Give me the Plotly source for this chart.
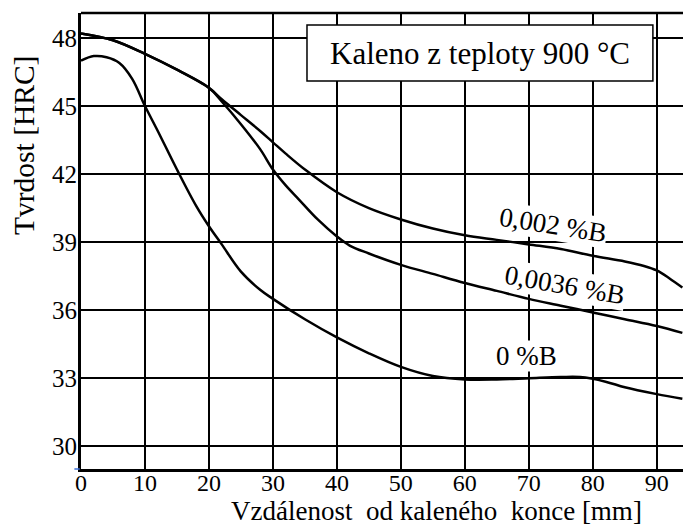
import plotly.graph_objects as go

# Jominy end-quench hardness curves (distance from quenched end in mm vs HRC)
dist_002 = [0, 5, 10, 15, 20, 22, 25, 28, 30, 32, 35, 40, 45, 50, 55, 60, 65, 70, 75, 80, 85, 88, 90,
            92, 94]
hrc_002 = [48.2, 47.9, 47.3, 46.6, 45.8, 45.3, 44.6, 43.9, 43.4, 42.9, 42.2, 41.2, 40.5, 40.0, 39.6,
           39.3, 39.1, 38.9, 38.7, 38.4, 38.15, 37.95, 37.75, 37.4, 37.0]

dist_0036 = [0, 5, 10, 15, 20, 22, 25, 28, 30, 32, 34, 37, 40, 42, 45, 50, 55, 60, 65, 70, 75, 80, 85,
             90, 94]
hrc_0036 = [48.2, 47.9, 47.3, 46.6, 45.8, 45.2, 44.2, 43.1, 42.2, 41.5, 40.9, 40.0, 39.25, 38.85, 38.5,
            38.0, 37.6, 37.2, 36.85, 36.5, 36.2, 35.9, 35.6, 35.3, 35.0]

dist_0 = [0, 2, 4, 6, 8, 10, 12, 15, 18, 20, 22, 25, 28, 30, 35, 40, 45, 50, 55, 60, 65, 70, 75, 78,
          82, 85, 90, 94]
hrc_0 = [47.0, 47.2, 47.15, 46.9, 46.2, 45.0, 43.9, 42.2, 40.6, 39.7, 38.9, 37.7, 36.9, 36.5, 35.6,
         34.8, 34.1, 33.5, 33.1, 32.95, 32.95, 33.0, 33.05, 33.05, 32.85, 32.6, 32.3, 32.1]

x_ticks = [0, 10, 20, 30, 40, 50, 60, 70, 80, 90]
y_ticks = [30, 33, 36, 39, 42, 45, 48]

curve_labels = ["0,002 %B", "0,0036 %B", "0 %B"]
label_x = [73.8, 75.6, 69.7]
label_y = [39.75, 37.1, 33.97]
label_angle = [9, 10, 0]

SERIF = "Liberation Serif"

fig = go.Figure()
for xs, ys in [(dist_002, hrc_002), (dist_0036, hrc_0036), (dist_0, hrc_0)]:
    fig.add_trace(go.Scatter(
        x=xs, y=ys, mode="lines",
        line=dict(color="black", width=2.5, shape="spline", smoothing=1.0),
        hoverinfo="skip", showlegend=False,
    ))

for txt, lx, ly, ang in zip(curve_labels, label_x, label_y, label_angle):
    fig.add_annotation(
        x=lx, y=ly, xref="x", yref="y", text=txt, showarrow=False,
        textangle=ang, bgcolor="white", borderpad=0,
        font=dict(family=SERIF, size=27, color="black"),
    )

# heading box in the upper right corner
fig.add_shape(type="rect", xref="paper", yref="paper",
              x0=0.3754, x1=0.950, y0=0.851, y1=0.9737,
              fillcolor="white", line=dict(color="black", width=1.5), layer="above")
fig.add_annotation(x=0.6628, y=0.912, xref="paper", yref="paper",
                   text="Kaleno z teploty 900 °C", showarrow=False,
                   xanchor="center", yanchor="middle",
                   font=dict(family=SERIF, size=31, color="black"))

# axis titles
fig.add_annotation(x=-0.0947, y=0.7105, xref="paper", yref="paper",
                   text="Tvrdost [HRC]", showarrow=False, textangle=-90,
                   xanchor="center", yanchor="middle",
                   font=dict(family=SERIF, size=29.5, color="black"))
fig.add_annotation(x=0.591, y=-0.092, xref="paper", yref="paper",
                   text="Vzdálenost  od kaleného  konce [mm]", showarrow=False,
                   xanchor="center", yanchor="middle", borderpad=0,
                   font=dict(family=SERIF, size=27, color="black"))

# top frame line and the small blue mark at the origin corner
fig.add_shape(type="line", xref="paper", yref="paper", x0=0, x1=1, y0=1, y1=1,
              line=dict(color="black", width=2.5), layer="above")
fig.add_shape(type="line", xref="paper", yref="paper", x0=-0.011, x1=-0.002, y0=0, y1=0,
              line=dict(color="#3b6fd6", width=1.5), layer="above")

fig.update_xaxes(
    range=[0, 94.1], tickvals=x_ticks, ticktext=[str(v) for v in x_ticks],
    showgrid=True, gridcolor="black", gridwidth=1.5,
    showline=True, linecolor="black", linewidth=3,
    ticks="", ticklen=0, ticklabelstandoff=-10, zeroline=False,
    tickfont=dict(family=SERIF, size=24, color="black"),
)
fig.update_yaxes(
    range=[29, 49.1], tickvals=y_ticks, ticktext=[str(v) for v in y_ticks],
    showgrid=True, gridcolor="black", gridwidth=1.5,
    showline=True, linecolor="black", linewidth=3,
    ticks="", ticklen=0, ticklabelstandoff=-4, zeroline=False,
    tickfont=dict(family=SERIF, size=25, color="black"),
)
fig.update_layout(
    width=683, height=526,
    margin=dict(l=81, r=0, t=13, b=57, autoexpand=False),
    paper_bgcolor="white", plot_bgcolor="white",
)
fig.write_html("out.html")
